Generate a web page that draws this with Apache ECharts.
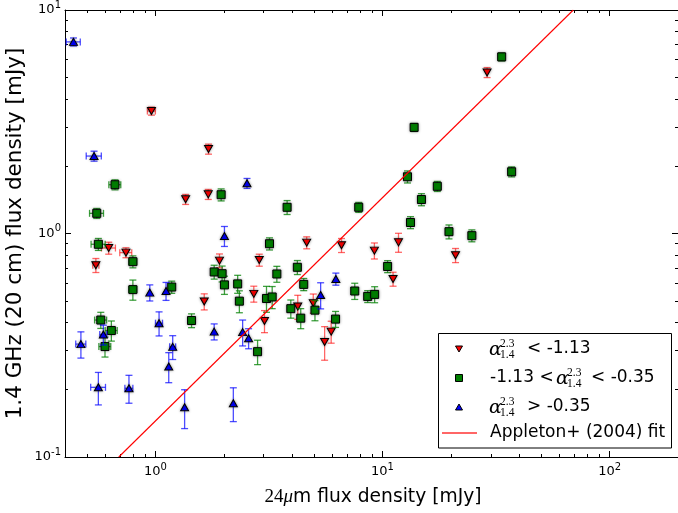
<!DOCTYPE html>
<html><head><meta charset="utf-8">
<script src="https://cdn.jsdelivr.net/npm/echarts@6/dist/echarts.min.js"></script>
<style>html,body{margin:0;padding:0;background:#fff}#c{width:678px;height:513px}</style>
</head><body><div id="c"></div>
<script>
// ---- data ----
// alpha < -1.13 (red, down triangles)
const redX    = [0.961,1.714,1.359,1.709,0.547,0.623,0.742,1.915,2.867,1.641,2.712,3.023,4.235,4.637,4.956,5.561,5.943,6.60,9.21,11.76,11.13,20.97,28.87];
const redY    = [3.53,2.387,1.422,1.497,0.721,0.861,0.821,0.756,0.761,0.496,0.537,0.406,0.471,0.910,0.488,0.327,0.364,0.886,0.838,0.913,0.626,0.799,5.255];
const redYErr = [0.145,0.123,0.073,0.077,0.052,0.053,0.042,0.054,0.047,0.041,0.044,0.046,0.058,0.056,0.048,0.056,0.041,0.064,0.069,0.089,0.045,0.058,0.27];
const redXErr = [0.039,0,0,0,0.017,0.044,0.045,0,0,0,0,0,0,0,0,0,0,0,0,0,0,0,0];
// -1.13 < alpha < -0.35 (green squares)
const grnX    = [33.47,13.78,12.88,37.03,17.43,14.84,13.28,19.62,24.74,10.53,0.664,1.948,0.552,0.561,0.796,1.815,1.967,2.014,2.303,0.796,1.180,2.343,0.575,0.640,0.600,1.443,2.818,3.802,7.858,3.180,3.426,4.218,4.499,7.547,8.606,9.234,3.085,3.268,3.947,4.365,5.042,6.213];
const grnY    = [6.17,2.984,1.794,1.889,1.626,1.419,1.120,1.019,0.978,0.712,1.653,1.491,1.231,0.895,0.748,0.673,0.661,0.589,0.595,0.561,0.576,0.498,0.410,0.368,0.312,0.408,0.296,1.310,1.310,0.900,0.659,0.706,0.592,0.553,0.523,0.534,0.512,0.520,0.461,0.418,0.454,0.414];
const grnYErr = [0.254,0.123,0.111,0.097,0.084,0.088,0.069,0.073,0.060,0.044,0.085,0.092,0.063,0.055,0.046,0.048,0.054,0.055,0.055,0.058,0.036,0.056,0.034,0.038,0.032,0.029,0.037,0.094,0.067,0.056,0.054,0.051,0.037,0.046,0.032,0.044,0.068,0.059,0.043,0.043,0.047,0.034];
const grnXErr = [0,0,0,0,0,0,0,0,0,0,0.040,0,0.039,0.040,0.032,0,0,0,0,0.032,0,0,0.035,0.039,0.036,0,0,0,0,0,0,0,0,0,0,0,0,0,0,0,0,0];
// alpha > -0.35 (blue, up triangles)
const bluX    = [0.436,0.537,2.532,2.014,0.945,1.114,1.038,1.815,1.192,1.145,0.561,0.765,1.345,2.204,2.422,2.573,6.231,5.341,0.470,0.590];
const bluY    = [7.20,2.221,1.677,0.975,0.544,0.553,0.397,0.364,0.311,0.254,0.205,0.203,0.167,0.174,0.362,0.340,0.626,0.531,0.320,0.353];
const bluYErr = [0.296,0.114,0.086,0.100,0.045,0.051,0.049,0.030,0.038,0.039,0.034,0.029,0.033,0.030,0.048,0.035,0.039,0.071,0.043,0.036];
const bluXErr = [0.031,0.041,0,0,0,0,0.037,0,0.036,0,0.042,0.031,0,0,0,0,0,0,0.024,0.021];
// Appleton+ (2004) fit line, end points where it crosses the frame
const fitX = [0.69, 69.2];
const fitY = [0.1, 10];
// axis ticks
const xMajor = [1, 10, 100];
const xMinor = [0.5,0.6,0.7,0.8,0.9,2,3,4,5,6,7,8,9,20,30,40,50,60,70,80,90];
const yMajor = [0.1, 1, 10];
const yMinor = [0.2,0.3,0.4,0.5,0.6,0.7,0.8,0.9,2,3,4,5,6,7,8,9];

const chart = echarts.init(document.getElementById('c'), null, {renderer:'canvas'});
const pow10 = v => { const e = Math.round(Math.log10(v)); return '{b|10}{s|' + e + '}'; };
const labRich = {
  b:{fontSize:13, lineHeight:20, fontFamily:'DejaVu Sans', color:'#000'},
  s:{fontSize:10, lineHeight:12, verticalAlign:'top', fontFamily:'DejaVu Sans', color:'#000'}
};
function axis(kind, pos, ticks, len, main, lab, range){
  return {
    type:'log', logBase:10, min:range[0], max:range[1], position:pos, gridIndex:0,
    axisLine:{show:main, onZero:false, lineStyle:{color:'#000', width:1}},
    axisTick:{show:true, inside:true, length:len, customValues:ticks, lineStyle:{color:'#000', width:1}},
    axisLabel:{show:lab, customValues:ticks, formatter:pow10, rich:labRich, margin:kind==='x'?5:4,
               showMinLabel:true, showMaxLabel:true},
    splitLine:{show:false}, minorTick:{show:false}, minorSplitLine:{show:false}
  };
}
const xr=[0.4,200], yr=[0.1,10];
function errRender(color){
  return function(params, api){
    const x=api.value(0), y=api.value(1), ey=api.value(2), ex=api.value(3);
    const c=api.coord([x,y]);
    const lo=api.coord([x,y-ey]), hi=api.coord([x,y+ey]);
    const st={stroke:color, lineWidth:1.3};
    const cap=3.5;
    const ch=[
      {type:'line', shape:{x1:c[0],y1:lo[1],x2:c[0],y2:hi[1]}, style:st},
      {type:'line', shape:{x1:c[0]-cap,y1:lo[1],x2:c[0]+cap,y2:lo[1]}, style:st},
      {type:'line', shape:{x1:c[0]-cap,y1:hi[1],x2:c[0]+cap,y2:hi[1]}, style:st}
    ];
    if(ex>0){
      const l=api.coord([x-ex,y]), r=api.coord([x+ex,y]);
      ch.push({type:'line', shape:{x1:l[0],y1:c[1],x2:r[0],y2:c[1]}, style:st});
      ch.push({type:'line', shape:{x1:l[0],y1:c[1]-cap,x2:l[0],y2:c[1]+cap}, style:st});
      ch.push({type:'line', shape:{x1:r[0],y1:c[1]-cap,x2:r[0],y2:c[1]+cap}, style:st});
    }
    return {type:'group', children:ch};
  };
}
function errSeries(xs,ys,eys,exs,color,z){
  return {type:'custom', renderItem:errRender(color), clip:true, z:z,
    data: xs.map((x,i)=>[x,ys[i],eys[i],exs[i]]), encode:{x:0,y:1}, silent:true};
}
function scat(xs,ys,sym,rot,size,color,z){
  return {type:'scatter', symbol:sym, symbolRotate:rot, symbolSize:size, z:z,
    data: xs.map((x,i)=>[x,ys[i]]),
    itemStyle:{color:color, borderColor:'#000', borderWidth:1, opacity:1,
      shadowBlur:3, shadowColor:'rgba(0,0,0,0.35)'}};
}
const sans='DejaVu Sans', serif='Liberation Serif';
function alphaGroup(x, y){
  return [
    {type:'text', x:x-1, y:y+1, style:{text:'α', fontSize:19, fontStyle:'italic', fontFamily:'DejaVu Serif', fill:'#000', align:'left', verticalAlign:'middle'}},
    {type:'text', x:x+10, y:y-5, style:{text:'2.3', fontSize:11.5, fontFamily:serif, fill:'#000', align:'left', verticalAlign:'middle'}},
    {type:'text', x:x+10, y:y+6, style:{text:'1.4', fontSize:11.5, fontFamily:serif, fill:'#000', align:'left', verticalAlign:'middle'}}
  ];
}
function txt(x,y,t){
  return {type:'text', x:x, y:y, style:{text:t, fontSize:17, fontFamily:sans, fill:'#000', align:'left', verticalAlign:'middle'}};
}
const graphics = [
  {type:'text', x:373, y:497, z:100, style:{text:'{s|24}{i|μ}{n|m flux density [mJy]}', align:'center', verticalAlign:'middle',
     rich:{s:{fontSize:19, fontFamily:serif, fill:'#000'}, i:{fontSize:19, fontFamily:serif, fontStyle:'italic', fill:'#000'},
           n:{fontSize:18.7, fontFamily:sans, fill:'#000'}}}},
  {type:'text', x:15, y:233.5, rotation:Math.PI/2, z:100, style:{text:'1.4 GHz (20 cm) flux density [mJy]', fontSize:21.5, fontFamily:sans, fill:'#000', align:'center', verticalAlign:'middle'}},
  {type:'group', z:100, children:[
    {type:'rect', shape:{x:438.5, y:333.5, width:233, height:114.5}, style:{fill:'#fff', stroke:'#000', lineWidth:1}},
    {type:'polygon', shape:{points:[[455.5,346],[462.5,346],[459,352]]}, style:{fill:'#ff0000', stroke:'#000', lineWidth:1}},
    {type:'rect', shape:{x:455.5, y:374.5, width:7, height:7}, style:{fill:'#007f00', stroke:'#000', lineWidth:1}},
    {type:'polygon', shape:{points:[[455.5,410],[462.5,410],[459,404]]}, style:{fill:'#0000ff', stroke:'#000', lineWidth:1}},
    {type:'line', shape:{x1:442, y1:433, x2:477, y2:433}, style:{stroke:'rgba(255,0,0,0.6)', lineWidth:2}},
    ...alphaGroup(490,349), txt(527,349,'< -1.13'),
    txt(490,378,'-1.13 <'), ...alphaGroup(557,378), txt(591,378,'< -0.35'),
    ...alphaGroup(490,407), txt(527,407,'> -0.35'),
    txt(490,433,'Appleton+ (2004) fit')
  ]}
];
chart.setOption({
  animation:false,
  backgroundColor:'#fff',
  grid:{left:65, right:-3, top:10, bottom:56, containLabel:false},
  xAxis:[axis('x','bottom',xMajor,6,true,true,xr), axis('x','bottom',xMinor,3,false,false,xr),
         axis('x','top',xMajor,6,true,false,xr), axis('x','top',xMinor,3,false,false,xr)],
  yAxis:[axis('y','left',yMajor,6,true,true,yr), axis('y','left',yMinor,3,false,false,yr),
         axis('y','right',yMajor,6,true,false,yr), axis('y','right',yMinor,3,false,false,yr)],
  series:[
    errSeries(redX,redY,redYErr,redXErr,'rgba(255,0,0,0.6)',2),
    scat(redX,redY,'triangle',180,[8,7],'#ff0000',3),
    errSeries(grnX,grnY,grnYErr,grnXErr,'rgba(0,128,0,0.75)',4),
    scat(grnX,grnY,'rect',0,8,'#007f00',5),
    errSeries(bluX,bluY,bluYErr,bluXErr,'rgba(0,0,255,0.7)',6),
    scat(bluX,bluY,'triangle',0,[8,7],'#0000ff',7),
    {type:'line', data: fitX.map((x,i)=>[x,fitY[i]]), symbol:'none', z:8, silent:true,
     lineStyle:{color:'#ff0000', width:1.1}}
  ],
  graphic: graphics
});
</script></body></html>
